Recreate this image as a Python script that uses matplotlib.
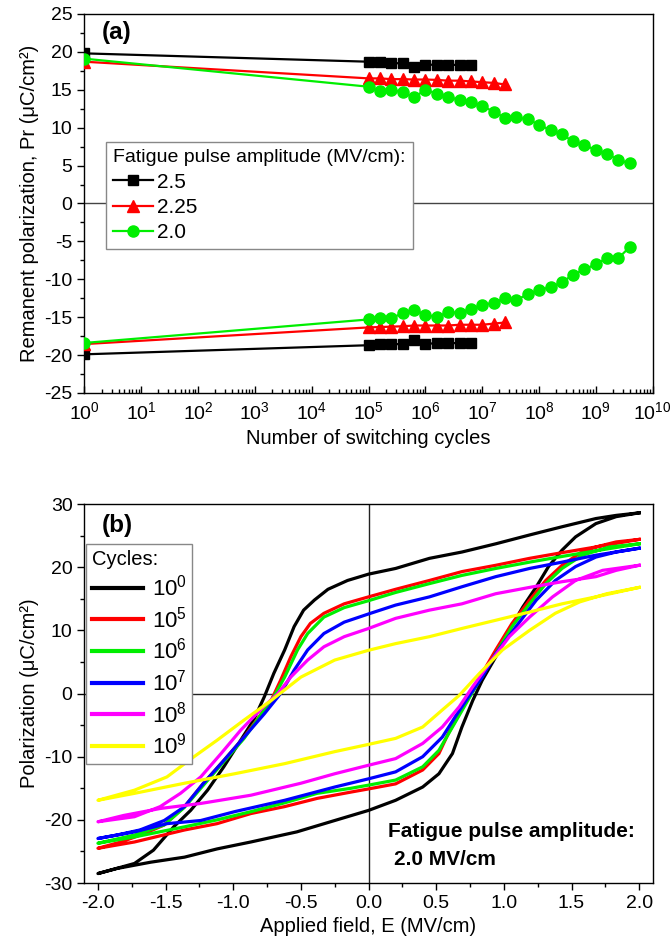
import matplotlib
matplotlib.use("Agg")
import matplotlib.pyplot as plt
from matplotlib.ticker import MultipleLocator, LogLocator, NullFormatter

plt.rcParams["font.family"] = ["Liberation Sans", "DejaVu Sans"]
plt.rcParams["mathtext.fontset"] = "custom"
plt.rcParams["mathtext.rm"] = "Liberation Sans"
plt.rcParams["mathtext.it"] = "Liberation Sans:italic"
plt.rcParams["mathtext.bf"] = "Liberation Sans:bold"
plt.rcParams["axes.unicode_minus"] = False

# ---- (a) remanent polarization vs number of switching cycles ----
cycles = [1, 1.0e5, 1.6e5, 2.5e5, 4.0e5, 6.3e5, 1.0e6, 1.6e6, 2.5e6, 4.0e6, 6.3e6,
          1.0e7, 1.6e7, 2.5e7, 4.0e7, 6.3e7, 1.0e8, 1.6e8, 2.5e8, 4.0e8, 6.3e8,
          1.0e9, 1.6e9, 2.5e9, 4.0e9]
pr_25_pos = [19.8, 18.7, 18.6, 18.5, 18.5, 18.0, 18.3, 18.3, 18.25, 18.3, 18.2]
pr_25_neg = [-19.9, -18.7, -18.6, -18.5, -18.6, -18.0, -18.5, -18.45, -18.45, -18.4, -18.4]
pr_225_pos = [18.7, 16.5, 16.5, 16.4, 16.4, 16.35, 16.35, 16.3, 16.2, 16.2, 16.1, 16.0, 15.9, 15.7]
pr_225_neg = [-18.55, -16.35, -16.3, -16.25, -16.2, -16.1, -16.1, -16.1, -16.1, -16.0, -16.0,
              -16.0, -15.85, -15.7]
pr_20_pos = [19.1, 15.4, 14.8, 15.0, 14.65, 14.0, 15.0, 14.5, 14.0, 13.7, 13.4, 12.85, 12.1,
             11.3, 11.35, 11.1, 10.4, 9.65, 9.1, 8.2, 7.7, 7.05, 6.55, 5.7, 5.3]
pr_20_neg = [-18.4, -15.3, -15.1, -15.1, -14.5, -14.0, -14.7, -15.0, -14.3, -14.45, -13.9, -13.4,
             -13.1, -12.5, -12.7, -12.0, -11.4, -11.05, -10.4, -9.4, -8.7, -8.0, -7.2, -7.2, -5.7]
amplitudes = ["2.5", "2.25", "2.0"]

# ---- (b) P-E hysteresis loops after fatigue at 2.0 MV/cm ----
cycle_labels = ["$10^0$", "$10^5$", "$10^6$", "$10^7$", "$10^8$", "$10^9$"]
# upper branch: field swept +2 -> -2, lower branch: -2 -> +2
e_up_1e0 = [2.0, 1.83, 1.68, 1.43, 1.19, 0.94, 0.69, 0.45, 0.2, 0.0, -0.155, -0.30, -0.40, -0.48,
            -0.55, -0.62, -0.70, -0.77, -0.85, -0.945, -1.07, -1.19, -1.315, -1.44, -1.59, -1.73,
            -2.0]
p_up_1e0 = [28.6, 28.2, 27.7, 26.4, 25.1, 23.7, 22.4, 21.4, 19.8, 18.9, 17.9, 16.5, 14.8, 13.2,
            10.6, 6.9, 3.2, -0.5, -4.2, -7.4, -11.6, -15.3, -18.5, -21.1, -24.8, -26.9, -28.5]
e_lo_1e0 = [-2.0, -1.86, -1.61, -1.36, -1.12, -0.87, -0.53, -0.25, 0.0, 0.2, 0.40, 0.52, 0.62,
            0.69, 0.77, 0.84, 0.94, 1.04, 1.14, 1.24, 1.33, 1.43, 1.53, 1.68, 1.83, 2.0]
p_lo_1e0 = [-28.5, -27.7, -26.7, -25.9, -24.6, -23.5, -21.9, -20.1, -18.5, -16.9, -14.8, -12.7,
            -9.5, -5.3, -1.1, 2.1, 5.8, 10.0, 13.7, 16.9, 20.1, 22.7, 24.8, 26.9, 28.0, 28.6]

e_up_1e5 = [2.0, 1.68, 1.43, 1.19, 0.94, 0.69, 0.45, 0.2, 0.0, -0.18, -0.33, -0.43, -0.50, -0.575,
            -0.65, -0.72, -0.92, -1.07, -1.22, -1.36, -1.51, -1.66, -1.83, -2.0]
p_up_1e5 = [24.4, 23.2, 22.3, 21.4, 20.3, 19.3, 17.9, 16.5, 15.3, 14.2, 12.7, 11.1, 9.0, 5.8,
            2.1, -1.1, -6.9, -10.6, -14.2, -17.9, -20.8, -22.2, -23.5, -24.5]
e_lo_1e5 = [-2.0, -1.73, -1.36, -1.12, -0.87, -0.62, -0.38, -0.13, 0.0, 0.2, 0.40, 0.52, 0.59,
            0.67, 0.74, 0.84, 0.94, 1.06, 1.19, 1.31, 1.43, 1.56, 1.68, 1.83, 2.0]
p_lo_1e5 = [-24.5, -23.5, -21.6, -20.6, -19.0, -17.9, -16.6, -15.6, -15.1, -14.3, -12.1, -9.5,
            -6.3, -3.2, -0.5, 3.2, 6.9, 11.1, 14.8, 17.9, 20.3, 22.2, 23.2, 24.0, 24.4]

e_up_1e6 = [2.0, 1.68, 1.43, 1.19, 0.94, 0.69, 0.45, 0.2, 0.0, -0.18, -0.33, -0.45, -0.525, -0.62,
            -0.70, -0.92, -1.07, -1.22, -1.36, -1.51, -1.73, -2.0]
p_up_1e6 = [23.7, 22.6, 21.7, 20.8, 19.8, 18.7, 17.4, 16.0, 14.7, 13.6, 12.1, 9.5, 6.9, 2.6,
            -0.5, -7.1, -10.8, -14.5, -18.0, -20.8, -22.4, -23.7]
e_lo_1e6 = [-2.0, -1.73, -1.36, -1.12, -0.87, -0.62, -0.38, -0.13, 0.0, 0.2, 0.40, 0.52, 0.62,
            0.72, 0.82, 0.94, 1.06, 1.19, 1.31, 1.43, 1.58, 1.78, 2.0]
p_lo_1e6 = [-23.7, -22.7, -21.1, -20.0, -18.7, -17.3, -15.8, -15.0, -14.5, -13.7, -11.6, -9.0,
            -5.3, -1.6, 2.1, 6.3, 10.6, 14.2, 17.4, 19.8, 21.9, 23.2, 23.7]

e_up_1e7 = [2.0, 1.68, 1.43, 1.19, 0.94, 0.69, 0.45, 0.2, 0.0, -0.18, -0.33, -0.45, -0.55, -0.65,
            -0.77, -0.92, -1.07, -1.22, -1.36, -1.51, -1.69, -1.86, -2.0]
p_up_1e7 = [23.0, 21.9, 20.8, 19.8, 18.5, 16.9, 15.3, 14.0, 12.6, 11.3, 9.5, 6.9, 3.7, 0.0,
            -3.2, -6.9, -10.6, -14.2, -17.9, -20.1, -21.6, -22.4, -22.95]
e_lo_1e7 = [-2.0, -1.73, -1.49, -1.24, -0.99, -0.62, -0.25, 0.0, 0.2, 0.40, 0.545, 0.64, 0.74,
            0.84, 0.94, 1.09, 1.24, 1.38, 1.53, 1.68, 1.83, 2.0]
p_lo_1e7 = [-22.95, -21.9, -20.6, -20.1, -18.7, -16.9, -14.8, -13.5, -12.4, -10.0, -6.9, -3.7,
            -0.5, 2.6, 6.3, 10.6, 14.8, 17.9, 20.1, 21.6, 22.4, 23.0]

e_up_1e8 = [2.0, 1.83, 1.68, 1.43, 1.19, 0.94, 0.69, 0.45, 0.2, 0.0, -0.18, -0.33, -0.45, -0.575,
            -0.67, -0.80, -0.945, -1.09, -1.24, -1.39, -1.54, -1.73, -2.0]
p_up_1e8 = [20.3, 19.5, 18.5, 17.7, 16.8, 15.8, 14.2, 13.2, 11.9, 10.3, 9.0, 7.4, 5.3, 2.6,
            0.0, -2.6, -5.8, -9.5, -13.2, -15.8, -17.9, -19.5, -20.3]
e_lo_1e8 = [-2.0, -1.81, -1.54, -1.24, -0.87, -0.50, -0.25, 0.0, 0.2, 0.40, 0.545, 0.67, 0.77,
            0.89, 1.04, 1.19, 1.36, 1.53, 1.73, 2.0]
p_lo_1e8 = [-20.3, -19.3, -18.2, -17.4, -16.1, -14.2, -12.7, -11.35, -10.3, -7.9, -5.3, -2.1,
            1.1, 4.7, 9.0, 12.1, 15.3, 17.9, 19.5, 20.3]

e_up_1e9 = [2.0, 1.68, 1.43, 1.19, 0.94, 0.69, 0.45, 0.2, 0.0, -0.25, -0.50, -0.72, -0.92, -1.12,
            -1.29, -1.49, -1.73, -2.0]
p_up_1e9 = [16.8, 15.3, 14.2, 12.9, 11.6, 10.3, 9.0, 7.9, 6.85, 5.3, 2.6, -1.1, -4.2, -7.4,
            -10.0, -13.2, -15.3, -16.9]
e_lo_1e9 = [-2.0, -1.73, -1.36, -0.99, -0.62, -0.25, 0.0, 0.2, 0.40, 0.545, 0.67, 0.82, 0.99,
            1.19, 1.38, 1.56, 1.76, 2.0]
p_lo_1e9 = [-16.9, -15.8, -14.2, -12.7, -11.1, -9.2, -8.05, -7.1, -5.3, -2.6, -0.3, 3.2, 6.9,
            10.0, 12.7, 14.5, 15.8, 16.8]

loops = [
    (e_up_1e0, p_up_1e0, e_lo_1e0, p_lo_1e0),
    (e_up_1e5, p_up_1e5, e_lo_1e5, p_lo_1e5),
    (e_up_1e6, p_up_1e6, e_lo_1e6, p_lo_1e6),
    (e_up_1e7, p_up_1e7, e_lo_1e7, p_lo_1e7),
    (e_up_1e8, p_up_1e8, e_lo_1e8, p_lo_1e8),
    (e_up_1e9, p_up_1e9, e_lo_1e9, p_lo_1e9),
]
loop_colors = ["#000000", "#ff0000", "#00ee00", "#0000ff", "#ff00ff", "#ffff00"]

fig = plt.figure(figsize=(6.72, 9.49), dpi=100)
ax_a = fig.add_axes([0.1256, 0.5859, 0.8457, 0.3994])
ax_b = fig.add_axes([0.1256, 0.0695, 0.8457, 0.3994])

# panel (a)
ax_a.axhline(0, color="#444444", lw=1.0, zorder=1)
styles = [("#000000", "s", 6.5), ("#ff0000", "^", 8.5), ("#00ee00", "o", 8)]
series = [(pr_25_pos, pr_25_neg), (pr_225_pos, pr_225_neg), (pr_20_pos, pr_20_neg)]
for (pos, neg), (col, mk, ms), lab in zip(series, styles, amplitudes):
    x = cycles[:len(pos)]
    ax_a.plot(x, pos, color=col, marker=mk, ms=ms, lw=1.6, label=lab, zorder=3)
    ax_a.plot(x, neg, color=col, marker=mk, ms=ms, lw=1.6, zorder=3)
ax_a.set_xscale("log")
ax_a.set_xlim(1, 1e10)
ax_a.set_ylim(-25, 25)
ax_a.xaxis.set_major_locator(LogLocator(base=10, numticks=12))
ax_a.xaxis.set_minor_locator(LogLocator(base=10, subs=range(2, 10), numticks=12))
ax_a.xaxis.set_minor_formatter(NullFormatter())
ax_a.yaxis.set_major_locator(MultipleLocator(5))
ax_a.yaxis.set_minor_locator(MultipleLocator(2.5))
ax_a.tick_params(axis="x", which="both", direction="in", labelsize=14, pad=6)
ax_a.tick_params(axis="y", which="both", direction="out", labelsize=14)
ax_a.tick_params(which="major", length=5, width=1)
ax_a.tick_params(which="minor", length=3, width=1)
ax_a.set_xlabel("Number of switching cycles", fontsize=14.5, labelpad=4)
ax_a.set_ylabel("Remanent polarization, Pr (μC/cm²)", fontsize=14.5, labelpad=4)
ax_a.text(0.031, 0.952, "(a)", transform=ax_a.transAxes, fontsize=17.5, fontweight="bold",
          va="center", ha="left")
leg_a = ax_a.legend(title="Fatigue pulse amplitude (MV/cm):", loc="upper left",
                    bbox_to_anchor=(0.038, 0.662), borderaxespad=0, fontsize=15,
                    title_fontsize=14, fancybox=False, edgecolor="#888888", framealpha=1,
                    handlelength=1.9, handletextpad=0.2, labelspacing=0.3, borderpad=0.35)
leg_a._legend_box.align = "left"
leg_a.get_frame().set_linewidth(1.0)

# panel (b)
ax_b.axhline(0, color="#222222", lw=1.0, zorder=1)
ax_b.axvline(0, color="#222222", lw=1.0, zorder=1)
for (eu, pu, el, pl), col, lab in zip(loops, loop_colors, cycle_labels):
    ax_b.plot(eu + el, pu + pl, color=col, lw=2.3, label=lab, zorder=3,
              solid_joinstyle="round")
ax_b.set_xlim(-2.1, 2.1)
ax_b.set_ylim(-30, 30)
ax_b.xaxis.set_major_locator(MultipleLocator(0.5))
ax_b.xaxis.set_minor_locator(MultipleLocator(0.25))
ax_b.yaxis.set_major_locator(MultipleLocator(10))
ax_b.yaxis.set_minor_locator(MultipleLocator(5))
ax_b.xaxis.set_major_formatter(plt.FuncFormatter(lambda v, _: f"{v:.1f}"))
ax_b.tick_params(which="both", direction="out", labelsize=14)
ax_b.tick_params(which="major", length=5, width=1)
ax_b.tick_params(which="minor", length=3, width=1)
ax_b.set_xlabel("Applied field, E (MV/cm)", fontsize=14.5, labelpad=4)
ax_b.set_ylabel("Polarization (μC/cm²)", fontsize=14.5, labelpad=4)
ax_b.text(0.031, 0.942, "(b)", transform=ax_b.transAxes, fontsize=17.5, fontweight="bold",
          va="center", ha="left")
ax_b.text(0.534, 0.137, "Fatigue pulse amplitude:", transform=ax_b.transAxes, fontsize=15,
          fontweight="bold", va="center", ha="left")
ax_b.text(0.545, 0.061, "2.0 MV/cm", transform=ax_b.transAxes, fontsize=15,
          fontweight="bold", va="center", ha="left")
leg_b = ax_b.legend(title="Cycles:", loc="upper left", bbox_to_anchor=(0.003, 0.894),
                    borderaxespad=0, fontsize=16, title_fontsize=14.5, fancybox=False,
                    edgecolor="#888888", framealpha=1, handlelength=2.3, handletextpad=0.4,
                    labelspacing=0.26, borderpad=0.25)
leg_b._legend_box.align = "left"
leg_b.get_frame().set_linewidth(1.0)
for line in leg_b.get_lines():
    line.set_linewidth(3)

for ax in (ax_a, ax_b):
    for sp in ax.spines.values():
        sp.set_linewidth(1.0)

fig.savefig("out.png", dpi=100)
